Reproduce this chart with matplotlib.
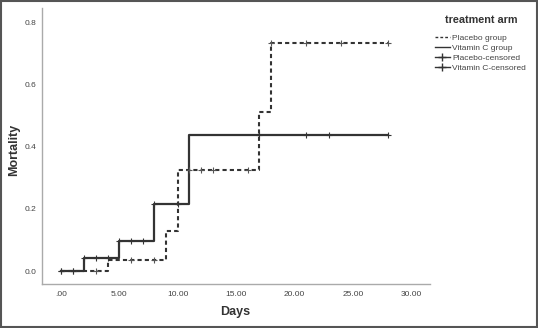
import numpy as np
import matplotlib
matplotlib.use('Agg')
import matplotlib.pyplot as plt
from matplotlib.lines import Line2D
from matplotlib.patches import Rectangle

plt.rcParams['font.family'] = ['Liberation Sans', 'DejaVu Sans']

# step times (days) and cumulative mortality after each step
placebo_t = [0, 4, 9, 10, 17, 18, 28]
placebo_y = [0.0, 0.036, 0.13, 0.327, 0.512, 0.735, 0.735]
vitc_t = [0, 2, 5, 8, 11, 28]
vitc_y = [0.0, 0.042, 0.097, 0.215, 0.437, 0.437]

# censored observations (days)
placebo_cens = [0, 1, 3, 6, 8, 11, 12, 13, 16, 18, 21, 24, 28]
vitc_cens = [0, 1, 2, 3, 4, 5, 6, 7, 8, 10, 17, 21, 23, 28]

xticks = [0, 5, 10, 15, 20, 25, 30]
xticklabels = ['.00', '5.00', '10.00', '15.00', '20.00', '25.00', '30.00']
yticks = [0.0, 0.2, 0.4, 0.6, 0.8]

col = '#333333'


def step_value(t, ts, ys):
    i = np.searchsorted(ts, t, side='right') - 1
    return ys[i]


fig = plt.figure(figsize=(5.38, 3.28), dpi=100)
ax = fig.add_axes([0.078, 0.134, 0.721, 0.842])

ax.step(placebo_t, placebo_y, where='post', color=col, lw=1.5,
        linestyle=(0, (2, 1.5)))
ax.step(vitc_t, vitc_y, where='post', color=col, lw=1.6)

ax.plot(placebo_cens, [step_value(t, placebo_t, placebo_y) for t in placebo_cens],
        linestyle='none', marker='+', ms=5, mew=0.8, color='#555555')
ax.plot(vitc_cens, [step_value(t, vitc_t, vitc_y) for t in vitc_cens],
        linestyle='none', marker='+', ms=5, mew=0.8, color='#333333')

ax.set_xlim(-1.63, 31.6)
ax.set_ylim(-0.042, 0.848)
ax.set_xticks(xticks)
ax.set_xticklabels(xticklabels)
ax.set_yticks(yticks)
ax.set_yticklabels(['0.0', '0.2', '0.4', '0.6', '0.8'])
ax.tick_params(axis='x', length=0, labelsize=6, colors='#444444', pad=5)
ax.tick_params(axis='y', length=0, labelsize=6, colors='#444444', pad=4)

for s in ['top', 'right']:
    ax.spines[s].set_visible(False)
for s in ['left', 'bottom']:
    ax.spines[s].set_color('#aaaaaa')
    ax.spines[s].set_linewidth(1.0)

ax.set_xlabel('Days', fontsize=9, fontweight='bold', color='#333333')
ax.xaxis.set_label_coords(0.497, -0.08)
ax.set_ylabel('Mortality', fontsize=9, fontweight='bold', color='#333333')
ax.yaxis.set_label_coords(-0.057, 0.486)

handles = [
    Line2D([], [], color=col, lw=1.0, linestyle=(0, (2, 1.5))),
    Line2D([], [], color=col, lw=1.0),
    Line2D([], [], color=col, lw=1.0, marker='+', ms=6),
    Line2D([], [], color=col, lw=1.0, marker='+', ms=6),
]
labels = ['Placebo group', 'Vitamin C group', 'Placebo-censored', 'Vitamin C-censored']
fig.text(481 / 538, 1 - 20 / 328, 'treatment arm', fontsize=7.8, fontweight='bold',
         color='#333333', ha='center', va='center')
leg = fig.legend(handles, labels, loc='upper left', bbox_to_anchor=(0.803, 1 - 31 / 328),
                 frameon=False, fontsize=6.0, numpoints=1,
                 handlelength=1.7, handletextpad=0.3, labelspacing=0.25,
                 borderaxespad=0)
for t in leg.get_texts():
    t.set_color('#444444')

fig.patches.append(Rectangle((0.001, 0.002), 0.997, 0.995, transform=fig.transFigure,
                             fill=False, edgecolor='#555555', lw=1.5))

fig.savefig('out.png', dpi=100)
